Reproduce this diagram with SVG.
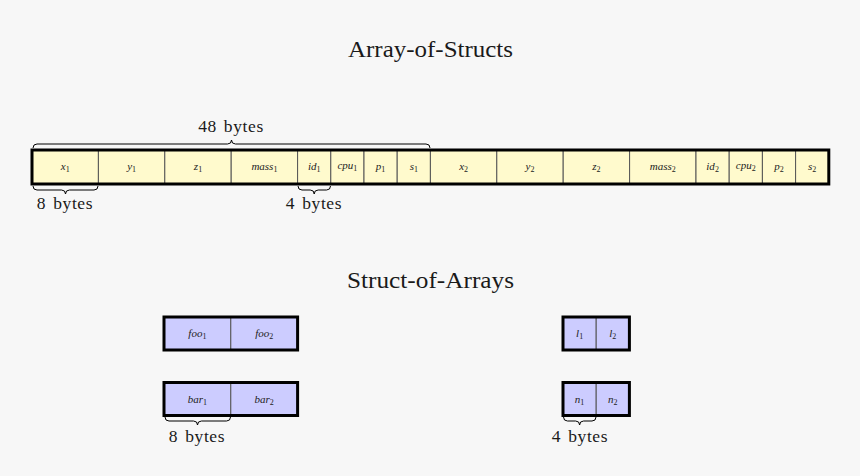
<svg xmlns="http://www.w3.org/2000/svg" width="860" height="476" viewBox="0 0 860 476">
<style>
.title{font-family:"Liberation Serif",serif;font-size:23px;fill:#1a1a1a}
.note{font-family:"Liberation Serif",serif;font-size:17.5px;fill:#1a1a1a;word-spacing:2px;letter-spacing:0.6px}
.lbl{font-family:"Liberation Serif",serif;font-size:11px;font-style:italic;fill:#222}
.sub{font-size:8px;font-style:normal}
.aos{fill:#FFFACD;stroke:#555;stroke-width:1}
.soa{fill:#CCCCFF;stroke:#555;stroke-width:1}
.frame{fill:none;stroke:#000;stroke-width:3}
.brace{fill:none;stroke:#000;stroke-width:1}
</style>
<rect x="0" y="0" width="860" height="476" fill="#F7F7F7"/>
<text class="title" x="430.5" y="57" text-anchor="middle" textLength="165" lengthAdjust="spacingAndGlyphs">Array-of-Structs</text>
<text class="title" x="430.5" y="288" text-anchor="middle" textLength="167" lengthAdjust="spacingAndGlyphs">Struct-of-Arrays</text>

<g id="aos-array">
<rect class="aos" x="32" y="150" width="66.4" height="34"/>
<rect class="aos" x="98.4" y="150" width="66.4" height="34"/>
<rect class="aos" x="164.8" y="150" width="66.4" height="34"/>
<rect class="aos" x="231.2" y="150" width="66.4" height="34"/>
<rect class="aos" x="297.6" y="150" width="33.2" height="34"/>
<rect class="aos" x="330.8" y="150" width="33.2" height="34"/>
<rect class="aos" x="364" y="150" width="33.2" height="34"/>
<rect class="aos" x="397.2" y="150" width="33.2" height="34"/>
<rect class="aos" x="430.4" y="150" width="66.4" height="34"/>
<rect class="aos" x="496.8" y="150" width="66.4" height="34"/>
<rect class="aos" x="563.2" y="150" width="66.4" height="34"/>
<rect class="aos" x="629.6" y="150" width="66.4" height="34"/>
<rect class="aos" x="696" y="150" width="33.2" height="34"/>
<rect class="aos" x="729.2" y="150" width="33.2" height="34"/>
<rect class="aos" x="762.4" y="150" width="33.2" height="34"/>
<rect class="aos" x="795.6" y="150" width="33.2" height="34"/>
<rect class="frame" x="32" y="150" width="796.8" height="34"/>
<g text-anchor="middle">
<text class="lbl" x="65.2" y="170">x<tspan class="sub" dy="2">1</tspan></text>
<text class="lbl" x="131.6" y="170">y<tspan class="sub" dy="2">1</tspan></text>
<text class="lbl" x="198" y="170">z<tspan class="sub" dy="2">1</tspan></text>
<text class="lbl" x="264.4" y="170">mass<tspan class="sub" dy="2">1</tspan></text>
<text class="lbl" x="314.2" y="170">id<tspan class="sub" dy="2">1</tspan></text>
<text class="lbl" x="347.4" y="169">cpu<tspan class="sub" dy="2">1</tspan></text>
<text class="lbl" x="380.6" y="170">p<tspan class="sub" dy="2">1</tspan></text>
<text class="lbl" x="413.8" y="170">s<tspan class="sub" dy="2">1</tspan></text>
<text class="lbl" x="463.6" y="170">x<tspan class="sub" dy="2">2</tspan></text>
<text class="lbl" x="530" y="170">y<tspan class="sub" dy="2">2</tspan></text>
<text class="lbl" x="596.4" y="170">z<tspan class="sub" dy="2">2</tspan></text>
<text class="lbl" x="662.8" y="170">mass<tspan class="sub" dy="2">2</tspan></text>
<text class="lbl" x="712.6" y="170">id<tspan class="sub" dy="2">2</tspan></text>
<text class="lbl" x="745.8" y="169">cpu<tspan class="sub" dy="2">2</tspan></text>
<text class="lbl" x="779" y="170">p<tspan class="sub" dy="2">2</tspan></text>
<text class="lbl" x="812.2" y="170">s<tspan class="sub" dy="2">2</tspan></text>
</g>
</g>

<g id="soa-foo">
<rect class="soa" x="164" y="317" width="66.8" height="33"/>
<rect class="soa" x="230.8" y="317" width="66.8" height="33"/>
<rect class="frame" x="164" y="317" width="133.6" height="33"/>
<text class="lbl" x="197.4" y="337" text-anchor="middle">foo<tspan class="sub" dy="2">1</tspan></text>
<text class="lbl" x="264.2" y="337" text-anchor="middle">foo<tspan class="sub" dy="2">2</tspan></text>
</g>
<g id="soa-bar">
<rect class="soa" x="164" y="382.5" width="66.8" height="33"/>
<rect class="soa" x="230.8" y="382.5" width="66.8" height="33"/>
<rect class="frame" x="164" y="382.5" width="133.6" height="33"/>
<text class="lbl" x="197.4" y="402.5" text-anchor="middle">bar<tspan class="sub" dy="2">1</tspan></text>
<text class="lbl" x="264.2" y="402.5" text-anchor="middle">bar<tspan class="sub" dy="2">2</tspan></text>
</g>
<g id="soa-l">
<rect class="soa" x="563" y="317" width="33.2" height="33"/>
<rect class="soa" x="596.2" y="317" width="33.2" height="33"/>
<rect class="frame" x="563" y="317" width="66.4" height="33"/>
<text class="lbl" x="579.6" y="337" text-anchor="middle">l<tspan class="sub" dy="2">1</tspan></text>
<text class="lbl" x="612.8" y="337" text-anchor="middle">l<tspan class="sub" dy="2">2</tspan></text>
</g>
<g id="soa-n">
<rect class="soa" x="563" y="382.5" width="33.2" height="33"/>
<rect class="soa" x="596.2" y="382.5" width="33.2" height="33"/>
<rect class="frame" x="563" y="382.5" width="66.4" height="33"/>
<text class="lbl" x="579.6" y="402.5" text-anchor="middle">n<tspan class="sub" dy="2">1</tspan></text>
<text class="lbl" x="612.8" y="402.5" text-anchor="middle">n<tspan class="sub" dy="2">2</tspan></text>
</g>

<g id="braces">
<path class="brace" d="M33,148 Q33,144 37,144 L227.5,144 Q231.5,144 231.5,140 Q231.5,144 235.5,144 L426,144 Q430,144 430,148"/>
<path class="brace" d="M33,186 Q33,190 37,190 L61.5,190 Q65.5,190 65.5,194 Q65.5,190 69.5,190 L94,190 Q98,190 98,186"/>
<path class="brace" d="M298,186 Q298,190 302,190 L310.2,190 Q314.2,190 314.2,194 Q314.2,190 318.2,190 L326.5,190 Q330.5,190 330.5,186"/>
<path class="brace" d="M165,417 Q165,421 169,421 L193.5,421 Q197.5,421 197.5,425 Q197.5,421 201.5,421 L226.5,421 Q230.5,421 230.5,417"/>
<path class="brace" d="M563.5,417 Q563.5,421 567.5,421 L575.6,421 Q579.6,421 579.6,425 Q579.6,421 583.6,421 L592,421 Q596,421 596,417"/>
</g>

<text class="note" x="231" y="132" text-anchor="middle">48 bytes</text>
<text class="note" x="65" y="209" text-anchor="middle">8 bytes</text>
<text class="note" x="314" y="209" text-anchor="middle">4 bytes</text>
<text class="note" x="197" y="442" text-anchor="middle">8 bytes</text>
<text class="note" x="580" y="442" text-anchor="middle">4 bytes</text>
</svg>
